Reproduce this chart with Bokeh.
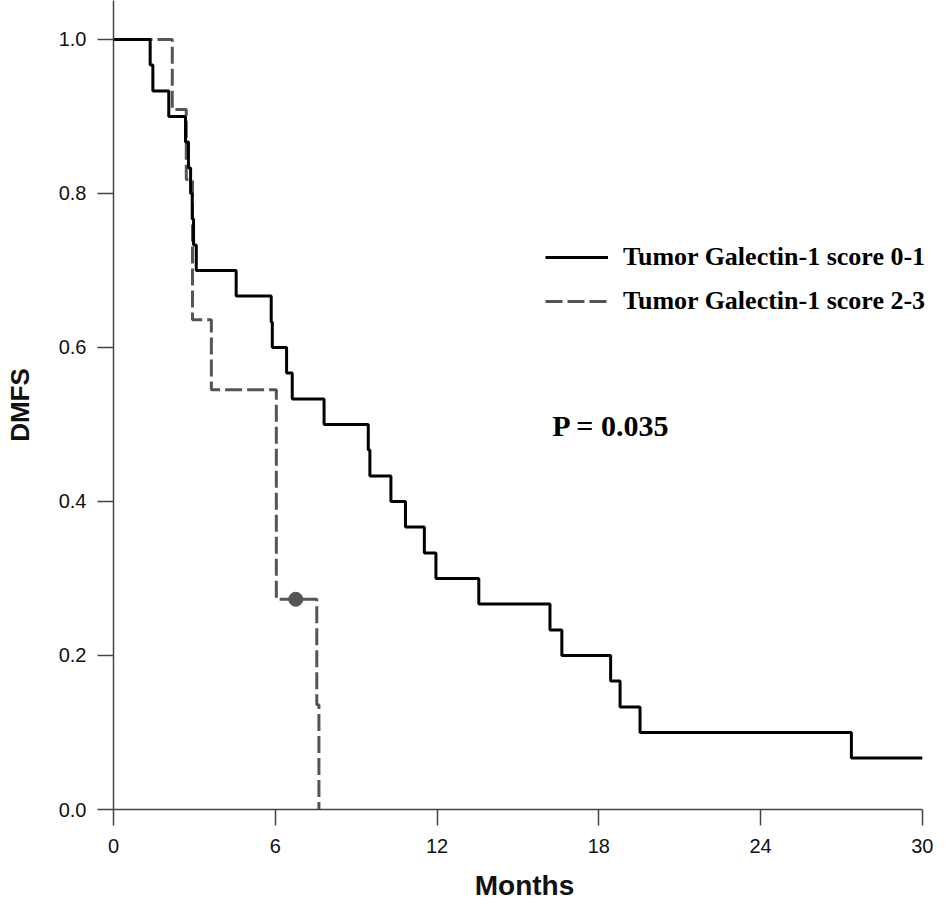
from bokeh.plotting import figure
from bokeh.models import Range1d, FixedTicker, Legend, LegendItem, Label
from bokeh.embed import file_html
from bokeh.resources import INLINE

# ---- data ----
low_times = [0, 1.36, 1.46, 2.05, 2.67, 2.78, 2.86, 2.92, 2.97, 3.07, 4.55, 5.85, 5.89,
             6.42, 6.63, 7.81, 9.45, 9.51, 10.29, 10.83, 11.53, 11.96, 13.55, 16.19,
             16.63, 18.44, 18.79, 19.53, 27.37, 30.0]
low_surv = [1.0, 0.967, 0.933, 0.900, 0.867, 0.833, 0.800, 0.767, 0.733, 0.700, 0.667,
            0.633, 0.600, 0.567, 0.533, 0.500, 0.467, 0.433, 0.400, 0.367, 0.333, 0.300,
            0.267, 0.233, 0.200, 0.167, 0.133, 0.100, 0.067, 0.067]

high_times = [0, 2.18, 2.70, 2.93, 3.63, 6.04, 7.54, 7.62]
high_surv = [1.0, 0.909, 0.818, 0.636, 0.545, 0.273, 0.136, 0.0]

censor_times = [6.76]
censor_surv = [0.273]

x_ticks = [0, 6, 12, 18, 24, 30]
y_ticks = [0.0, 0.2, 0.4, 0.6, 0.8, 1.0]

labels = ["Tumor Galectin-1 score 0-1", "Tumor Galectin-1 score 2-3"]
p_text = "P = 0.035"

# ---- figure ----
p = figure(width=945, height=906, output_backend="svg", toolbar_location=None,
           x_range=Range1d(0, 30.49), y_range=Range1d(0, 1.0506),
           min_border_left=113, min_border_right=10, min_border_top=0,
           min_border_bottom=97)
p.outline_line_color = None
p.xgrid.visible = False
p.ygrid.visible = False
p.background_fill_color = "white"
p.border_fill_color = "white"

axis_col = "#444444"
for ax in (p.xaxis[0], p.yaxis[0]):
    ax.axis_line_color = axis_col
    ax.axis_line_width = 1.5
    ax.major_tick_line_color = axis_col
    ax.major_tick_line_width = 1.5
    ax.major_tick_out = 16
    ax.major_tick_in = 0
    ax.minor_tick_line_color = None
    ax.major_label_text_font = "Liberation Sans"
    ax.major_label_text_font_size = "20px"
    ax.major_label_text_color = "#111111"
    ax.axis_label_text_font = "Liberation Sans"
    ax.axis_label_text_font_style = "bold"
    ax.axis_label_text_color = "#111111"

p.xaxis.bounds = (0, 30)
p.xaxis.ticker = FixedTicker(ticks=x_ticks)
p.yaxis.ticker = FixedTicker(ticks=y_ticks)
p.yaxis.major_label_overrides = {v: f"{v:.1f}" for v in y_ticks}
p.xaxis.major_label_standoff = 13
p.yaxis.major_label_standoff = 11
p.xaxis.axis_label = "Months"
p.yaxis.axis_label = "DMFS"
p.xaxis.axis_label_text_font_size = "28px"
p.yaxis.axis_label_text_font_size = "26px"
p.xaxis.axis_label_standoff = 14
p.yaxis.axis_label_standoff = 21

r_high = p.step(high_times, high_surv, mode="after", line_color="#555555",
                line_width=3, line_dash="17 5")
r_low = p.step(low_times, low_surv, mode="after", line_color="#000000", line_width=3)
p.scatter(censor_times, censor_surv, size=14, fill_color="#555555",
          line_color="#555555", marker="circle")

legend = Legend(items=[LegendItem(label=labels[0], renderers=[r_low]),
                       LegendItem(label=labels[1], renderers=[r_high])],
                location=(432, 493), orientation="vertical",
                glyph_width=63, glyph_height=30, label_height=30,
                label_standoff=15, spacing=14, padding=0, margin=0,
                border_line_color=None, background_fill_alpha=0,
                label_text_font="Liberation Serif", label_text_font_style="bold",
                label_text_font_size="26px", label_text_color="#000000")
p.add_layout(legend, "center")

p.add_layout(Label(x=16.27, y=0.499, text=p_text, text_font="Liberation Serif",
                   text_font_style="bold", text_font_size="30px",
                   text_baseline="middle", text_align="left", text_color="#000000"))

open("out.html", "w").write(file_html(p, INLINE))
